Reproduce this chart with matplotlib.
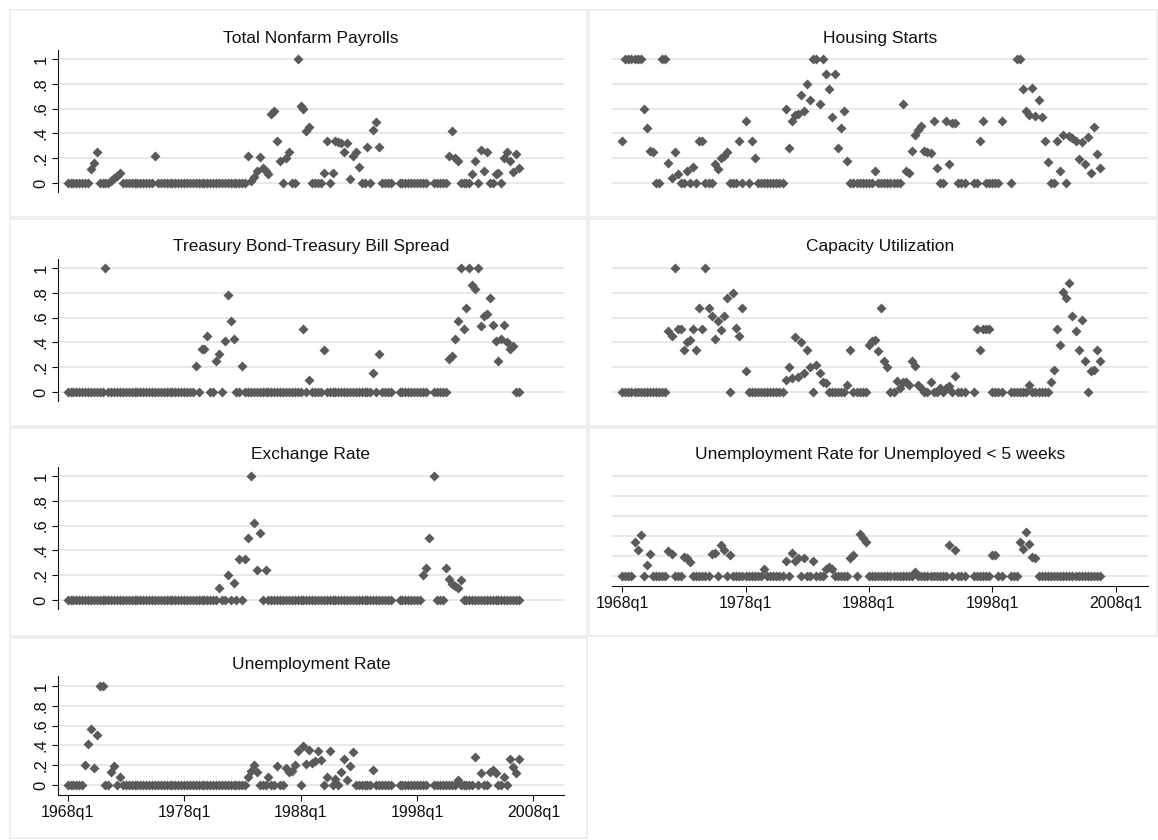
import numpy as np
import matplotlib
matplotlib.use("Agg")
import matplotlib.pyplot as plt
from matplotlib.patches import Rectangle

plt.rcParams['font.family'] = ['Liberation Sans', 'DejaVu Sans']

nan = np.nan

# quarter index: 0 = 1968q1 ... 155 = 2006q4
quarter = np.arange(156)
xticks = [0, 40, 80, 120, 160]
xticklabels = ["1968q1", "1978q1", "1988q1", "1998q1", "2008q1"]
yticks = [0, .2, .4, .6, .8, 1]
yticklabels = ["0", ".2", ".4", ".6", ".8", "1"]

# one row per year, four quarters each
payrolls = [0, 0, 0, 0,  0, 0, 0, 0,  .11, .16, .25, 0,  0, 0, 0, .02,
            .04, .06, .08, 0,  0, 0, 0, 0,  0, 0, 0, 0,  0, 0, .22, 0,
            0, 0, 0, 0,  0, 0, 0, 0,  0, 0, 0, 0,  0, 0, 0, 0,
            0, 0, 0, 0,  0, 0, 0, 0,  0, 0, 0, 0,  0, 0, .22, .02,
            .05, .10, .21, .12,  .10, .07, .56, .58,  .34, .18, 0, .20,  .25, 0, 0, 1,
            .62, .60, .42, .45,  0, 0, 0, 0,  .08, .34, 0, .08,  .34, .33, .32, .25,
            .32, .03, .22, .25,  .13, 0, 0, .29,  0, .43, .49, .29,  0, 0, 0, 0,
            nan, nan, 0, 0,  0, 0, 0, 0,  0, 0, 0, 0,  nan, nan, 0, 0,
            0, 0, 0, .22,  .42, .20, .18, 0,  0, 0, 0, .07,  .18, 0, .27, .10,
            .25, 0, 0, .07,  .08, 0, .20, .25,  .18, .09, .23, .12]

housing = [.34, 1, 1, 1,  1, 1, 1, .60,  .44, .26, .25, 0,  0, 1, 1, .16,
           .04, .25, .07, 0,  0, .10, 0, .13,  0, .34, .34, 0,  0, 0, .15, .11,
           .20, .22, .25, 0,  0, 0, .34, 0,  .50, 0, .34, .20,  0, 0, 0, 0,
           0, 0, 0, 0,  0, .60, .28, .50,  .55, .56, .71, .58,  .80, .67, 1, 1,
           .64, 1, .88, .76,  .53, .88, .28, .44,  .58, .18, 0, 0,  0, 0, 0, 0,
           0, 0, .10, 0,  0, 0, 0, 0,  0, 0, 0, .64,  .10, .08, .26, .39,
           .43, .46, .26, .25,  .24, .50, .12, 0,  0, .50, .15, .48,  .48, 0, 0, 0,
           nan, nan, 0, 0,  .34, .50, 0, 0,  0, 0, 0, .50,  nan, nan, 0, nan,
           1, 1, .76, .58,  .55, .77, .54, .67,  .53, .34, .17, 0,  0, .34, .10, .39,
           0, .38, .36, .34,  .19, .33, .15, .37,  .08, .45, .23, .12]

spread = [0, 0, 0, 0,  0, 0, 0, 0,  0, 0, 0, 0,  0, 1, 0, 0,
          0, 0, 0, 0,  0, 0, 0, 0,  0, 0, 0, 0,  0, 0, 0, 0,
          0, 0, 0, 0,  0, 0, 0, 0,  0, 0, 0, 0,  .21, 0, .35, .35,
          .45, 0, 0, .25,  .31, 0, .41, .78,  .57, .43, 0, 0,  .21, 0, 0, 0,
          0, 0, 0, 0,  0, 0, 0, 0,  0, 0, 0, 0,  0, 0, 0, 0,
          0, .51, 0, .10,  0, 0, 0, 0,  .34, 0, 0, 0,  0, 0, 0, 0,
          0, 0, 0, 0,  0, 0, 0, 0,  0, .15, 0, .31,  0, 0, 0, 0,
          nan, nan, 0, 0,  0, 0, 0, 0,  0, 0, 0, 0,  nan, nan, 0, 0,
          0, 0, 0, .27,  .29, .43, .57, 1,  .51, .68, 1, .86,  .83, 1, .53, .61,
          .63, .76, .54, .41,  .25, .43, .54, .40,  .35, .37, 0, 0]

capacity = [0, 0, 0, 0,  0, 0, 0, 0,  0, 0, 0, 0,  0, 0, 0, .49,
            .45, 1, .51, .51,  .34, .40, .42, .51,  .34, .68, .51, 1,  .68, .61, .43, .57,
            .50, .61, .76, 0,  .80, .52, .45, .68,  .17, 0, 0, 0,  0, 0, 0, 0,
            0, 0, 0, 0,  0, .10, .20, .11,  .44, .12, .40, .15,  .34, .20, 0, .22,
            .15, .08, .07, 0,  0, 0, 0, 0,  0, .06, .34, 0,  0, 0, 0, 0,
            .38, .41, .42, .33,  .68, .25, .20, 0,  0, .09, .03, .08,  .08, .06, .25, .21,
            .06, .03, 0, 0,  .08, 0, 0, .03,  0, .03, .05, 0,  .13, 0, 0, 0,
            nan, nan, 0, .51,  .34, .51, .51, .51,  0, 0, 0, 0,  nan, nan, 0, 0,
            0, 0, 0, 0,  .06, 0, 0, 0,  0, 0, 0, .08,  .18, .51, .38, .81,
            .76, .88, .61, .49,  .34, .58, .25, 0,  .17, .18, .34, .25]

exchange = [0, 0, 0, 0,  0, 0, 0, 0,  0, 0, 0, 0,  0, 0, 0, 0,
            0, 0, 0, 0,  0, 0, 0, 0,  0, 0, 0, 0,  0, 0, 0, 0,
            0, 0, 0, 0,  0, 0, 0, 0,  0, 0, 0, 0,  0, 0, 0, 0,
            0, 0, 0, 0,  .10, 0, 0, .20,  0, .14, 0, .33,  0, .33, .50, 1,
            .62, .24, .54, 0,  .24, 0, 0, 0,  0, 0, 0, 0,  0, 0, 0, 0,
            0, 0, 0, 0,  0, 0, 0, 0,  0, 0, 0, 0,  0, 0, 0, 0,
            0, 0, 0, 0,  0, 0, 0, 0,  0, 0, 0, 0,  0, 0, 0, 0,
            nan, nan, 0, 0,  0, 0, 0, 0,  0, 0, .20, .26,  .50, nan, 1, 0,
            0, 0, .26, .17,  .13, .11, .10, .16,  0, 0, 0, 0,  0, 0, 0, 0,
            0, 0, 0, 0,  0, 0, 0, 0,  0, 0, 0, 0]

short_unemp = [0, 0, 0, 0,  .34, .26, .41, 0,  .11, .22, 0, 0,  0, 0, 0, .25,
               .22, 0, 0, 0,  .19, .18, .14, 0,  0, 0, 0, 0,  0, .22, .23, 0,
               .31, .26, 0, .21,  0, 0, 0, 0,  0, 0, 0, 0,  0, 0, .07, 0,
               0, 0, 0, 0,  0, .15, 0, .23,  .15, .18, 0, .18,  0, 0, .15, 0,
               0, 0, .07, .09,  .07, 0, 0, 0,  0, 0, .18, .21,  0, .42, .38, .34,
               0, 0, 0, 0,  0, 0, 0, 0,  0, 0, 0, 0,  0, 0, 0, .04,
               0, 0, 0, 0,  0, 0, 0, 0,  0, 0, .31, 0,  .26, 0, 0, 0,
               nan, nan, 0, 0,  0, 0, 0, 0,  .21, .21, 0, 0,  nan, nan, 0, 0,
               0, .34, .27, .44,  .32, .19, .18, 0,  0, 0, 0, 0,  0, 0, 0, 0,
               0, 0, 0, 0,  0, 0, 0, 0,  0, 0, 0, 0]

unemp = [0, 0, 0, 0,  0, 0, .20, .41,  .57, .17, .51, 1,  1, 0, 0, .13,
         .19, 0, .08, 0,  0, 0, 0, 0,  0, 0, 0, 0,  0, 0, 0, 0,
         0, 0, 0, 0,  0, 0, 0, 0,  0, 0, 0, 0,  0, 0, 0, 0,
         0, 0, 0, 0,  0, 0, 0, 0,  0, 0, 0, 0,  0, 0, .08, .14,
         .20, .13, 0, 0,  0, .08, 0, 0,  .19, 0, 0, .17,  .13, .14, .20, .34,
         0, .39, .21, .35,  .22, .24, .34, .25,  0, .08, .34, 0,  .06, 0, .13, .26,
         .05, .19, .33, 0,  0, 0, 0, 0,  0, .15, 0, 0,  0, 0, 0, 0,
         nan, nan, 0, 0,  0, 0, 0, 0,  0, 0, 0, 0,  nan, nan, 0, 0,
         0, 0, 0, 0,  0, 0, .05, 0,  0, 0, 0, 0,  .28, 0, .12, 0,
         0, .13, .15, .12,  0, 0, .08, 0,  .26, .18, .12, .26]

W, H = 1158, 840
fig = plt.figure(figsize=(W / 100, H / 100), dpi=100)
fig.patch.set_facecolor('white')


def frac(x0, y0, x1, y1):
    # pixel box (top-left origin) -> figure fraction
    return [x0 / W, 1 - y1 / H, (x1 - x0) / W, (y1 - y0) / H]


mark = '#5a5a5a'
grid = '#e6e6e6'
ink = '#111111'

# title, values, frame box, plot x range, y of 1 and 0 lines, x axis?, y axis?, title y
panels = [
    ("Total Nonfarm Payrolls", payrolls, (10, 10, 587, 217), (58, 564), 59, 183, False, True, 38),
    ("Housing Starts", housing, (589, 10, 1157, 217), (612, 1148), 59, 183, False, False, 38),
    ("Treasury Bond-Treasury Bill Spread", spread, (10, 219, 587, 426), (58, 564), 268, 392, False, True, 247),
    ("Capacity Utilization", capacity, (589, 219, 1157, 426), (612, 1148), 268, 392, False, False, 247),
    ("Exchange Rate", exchange, (10, 428, 587, 636), (58, 564), 476, 600, False, True, 455),
    ("Unemployment Rate for Unemployed < 5 weeks", short_unemp, (589, 428, 1157, 636), (612, 1148), 476, 576, True, False, 455),
    ("Unemployment Rate", unemp, (10, 638, 587, 838), (58, 564), 686, 785, True, True, 665),
]

for title, vals, box, xr, g1, g0, xaxis, yaxis, ty in panels:
    fig.patches.append(Rectangle((box[0] / W, 1 - box[3] / H), (box[2] - box[0]) / W,
                                 (box[3] - box[1]) / H, transform=fig.transFigure,
                                 fill=False, edgecolor='#ebebeb', lw=1.2))
    pad = 0.1 if xaxis else 0.075
    span = g0 - g1
    ax = fig.add_axes(frac(xr[0], g1 - pad * span, xr[1], g0 + pad * span))
    ax.set_xlim(-3.3, 170.5)
    ax.set_ylim(-pad, 1 + pad)
    ax.patch.set_alpha(0)
    for y in yticks:
        ax.axhline(y, color=grid, lw=1.3, zorder=1)
    ax.plot(quarter, vals, ls='none', marker='D', ms=4.7, mfc=mark, mec='none', zorder=3)

    for s in ['top', 'right']:
        ax.spines[s].set_visible(False)
    ax.spines['left'].set_visible(yaxis)
    ax.spines['bottom'].set_visible(xaxis)
    ax.spines['left'].set_color(ink)
    ax.spines['bottom'].set_color(ink)
    ax.spines['left'].set_linewidth(0.8)
    ax.spines['bottom'].set_linewidth(0.8)

    if yaxis:
        ax.set_yticks(yticks)
        ax.set_yticklabels(yticklabels, rotation=90, va='center', fontsize=12, color=ink)
        ax.tick_params(axis='y', length=4, width=0.8, color=ink, pad=3)
    else:
        ax.set_yticks([])
    if xaxis:
        ax.set_xticks(xticks)
        ax.set_xticklabels(xticklabels, fontsize=11.5, color=ink)
        ax.tick_params(axis='x', length=4, width=0.8, color=ink, pad=3)
    else:
        ax.set_xticks([])

    fig.text((xr[0] + xr[1]) / 2 / W, 1 - ty / H, title, ha='center', va='center',
             fontsize=12.5, color=ink)

fig.savefig("out.png", dpi=100, facecolor='white')
